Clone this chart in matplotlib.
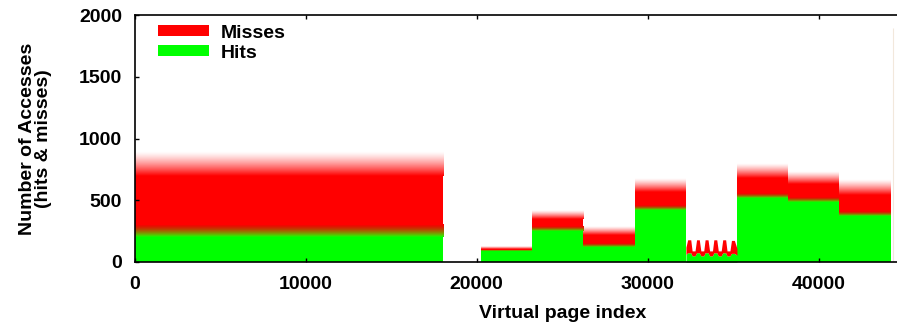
import numpy as np
import matplotlib
matplotlib.use("Agg")
import matplotlib.pyplot as plt
from matplotlib.patches import Patch

plt.rcParams['font.family'] = ['Liberation Sans', 'DejaVu Sans']
plt.rcParams['font.weight'] = 'bold'
plt.rcParams['font.size'] = 14

# page ranges of the flat regions, with the hit / total bands seen per region
seg_start = [0, 20249, 23229, 26210, 29249, 35210, 38190, 41170]
seg_end = [18028, 23229, 26210, 29249, 32229, 38190, 41170, 44209]
hits_lo = [200, 90, 255, 120, 420, 520, 490, 370]
hits_hi = [300, 100, 290, 150, 460, 560, 525, 410]
total_lo = [700, 108, 350, 220, 570, 680, 630, 540]
total_hi = [900, 125, 420, 285, 680, 800, 730, 665]

# region with periodic access pattern
osc_pages = [32229, 32330, 32510, 32590, 32760, 32850, 33010, 33100, 33270, 33350,
             33520, 33610, 33780, 33860, 34030, 34120, 34290, 34380, 34550, 34630,
             34800, 34890, 35060, 35210]
osc_total = [120, 180, 180, 90, 90, 180, 180, 90, 90, 180,
             180, 90, 90, 180, 180, 90, 90, 180, 180, 90,
             90, 175, 175, 110]
osc_hits = [60, 75, 75, 50, 50, 75, 75, 50, 50, 75,
            75, 50, 50, 75, 75, 50, 50, 75, 75, 50,
            50, 70, 70, 55]

# single hot page at the end
spike_page = 44330
spike_total = 1900

RED = (1.0, 0.0, 0.0)
GREEN = (0.0, 1.0, 0.0)

fig = plt.figure(figsize=(8.97, 3.24), dpi=100)
W, H = 897.0, 324.0
ax = fig.add_axes([134.5 / W, 62 / H, (990 - 134.5) / W, 246.7 / H])

n = 64
t = np.linspace(0, 1, n)
# green -> red mix for the ragged hit boundary
mix = np.zeros((n, 1, 4))
mix[:, 0, 0] = t ** 0.6
mix[:, 0, 1] = (1 - t) ** 1.5
mix[:, 0, 3] = 1.0
# red fading out for the ragged top of the misses
fade = np.zeros((n, 1, 4))
fade[:, 0, 0] = 1.0
fade[:, 0, 3] = (1 - t) ** 1.3

for x0, x1, hl, hh, tl, th in zip(seg_start, seg_end, hits_lo, hits_hi, total_lo, total_hi):
    ax.fill_between([x0, x1], 0, hl, color=GREEN, lw=0)
    ax.imshow(mix, extent=[x0, x1, hl, hh], aspect='auto', origin='lower',
              interpolation='bilinear', zorder=1)
    ax.fill_between([x0, x1], hh, tl, color=RED, lw=0)
    ax.imshow(fade, extent=[x0, x1, tl, th], aspect='auto', origin='lower',
              interpolation='bilinear', zorder=1)

ax.fill_between(osc_pages, 0, osc_hits, color=GREEN, lw=0)
ax.fill_between(osc_pages, osc_hits, osc_total, color=RED, lw=0)
ax.vlines(spike_page, 0, spike_total, color='#f2e8dc', lw=0.8)

ax.set_xlim(0, 50000)
ax.set_ylim(0, 2000)
ax.set_xticks([0, 10000, 20000, 30000, 40000])
ax.set_yticks([0, 500, 1000, 1500, 2000])
ax.tick_params(direction='in', length=3, width=1, top=True, right=True,
               labelsize=14)
ax.tick_params(axis='y', pad=9)
ax.tick_params(axis='x', pad=10)
for s in ax.spines.values():
    s.set_linewidth(1.2)

ax.set_xlabel('Virtual page index', fontsize=14, fontweight='bold', labelpad=9)
ax.set_ylabel('Number of Accesses\n(hits & misses)', fontsize=14,
              fontweight='bold', labelpad=19, linespacing=0.95)

handles = [Patch(facecolor=RED, edgecolor='none', label='Misses'),
           Patch(facecolor=GREEN, edgecolor='none', label='Hits')]
ax.legend(handles=handles, loc='upper left', bbox_to_anchor=(23.5 / (990 - 134.5), 0.962),
          frameon=False, borderpad=0, borderaxespad=0, handlelength=2.63,
          handleheight=0.52, handletextpad=0.62, labelspacing=0.15,
          prop={'weight': 'bold', 'size': 14})

fig.savefig('out.png', dpi=100)
